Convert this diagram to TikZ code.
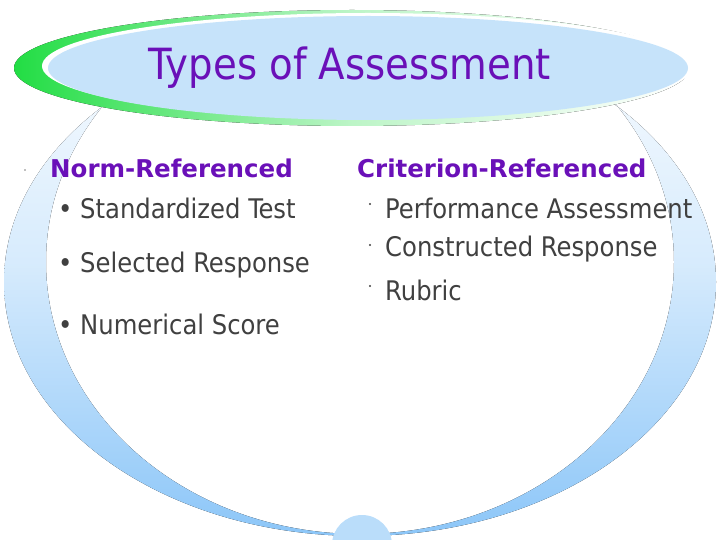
\documentclass[tikz,border=0pt]{standalone}
\usepackage{fontspec}
\setmainfont{DejaVu Sans Condensed}
\newfontfamily\hd{DejaVu Sans}
\definecolor{pur}{HTML}{6A10B8}
\definecolor{txt}{HTML}{404040}
\definecolor{ringb}{HTML}{8CC6F8}
\definecolor{titleb}{HTML}{C6E3FA}
\definecolor{grn}{HTML}{22DD44}
\begin{document}
\begin{tikzpicture}[x=1pt,y=-1pt,
  head/.style={anchor=west,font=\hd\bfseries\fontsize{24.5}{28}\selectfont,text=pur,inner sep=0},
  item/.style={anchor=west,font=\fontsize{27}{30}\selectfont,text=txt,inner sep=0}]
\useasboundingbox (0,0) rectangle (720,540);
% ring
\begin{scope}
\clip (0,90) rectangle (720,536);
\fill[even odd rule,top color=white,bottom color=ringb,middle color=ringb!35]
  (360,282) ellipse [x radius=356,y radius=254]
  (360,262) ellipse [x radius=314,y radius=272];
\end{scope}
\fill[titleb!80!ringb] (362,545) circle [radius=30];
% title
\fill[left color=grn,right color=white,middle color=grn!30] (352,68) ellipse [x radius=338,y radius=58];
\fill[white] (368,66) ellipse [x radius=326,y radius=53];
\fill[titleb] (368,68) ellipse [x radius=320,y radius=52];
\node[font=\fontsize{43}{48}\selectfont,text=pur] (t) at (350,68) {Types of Assessment};
% text
\fill[gray] (25,170) circle[radius=0.8];
\node[head] (n) at (50,168) {Norm-Referenced};
\node[item] (n1) at (58,208) {\textbullet\ Standardized Test};
\node[item] (n2) at (58,265) {\textbullet\ Selected Response};
\node[item] (n3) at (58,324) {\textbullet\ Numerical Score};
\node[head] (c) at (357,168) {Criterion-Referenced};
\node[item] (c1) at (385,208) {Performance Assessment};
\node[item] (c2) at (385,249) {Constructed Response};
\node[item] (c3) at (385,290) {Rubric};
\foreach \y in {204,245,286} \fill[txt] (370,\y) circle[radius=1.1];
\end{tikzpicture}
\end{document}
